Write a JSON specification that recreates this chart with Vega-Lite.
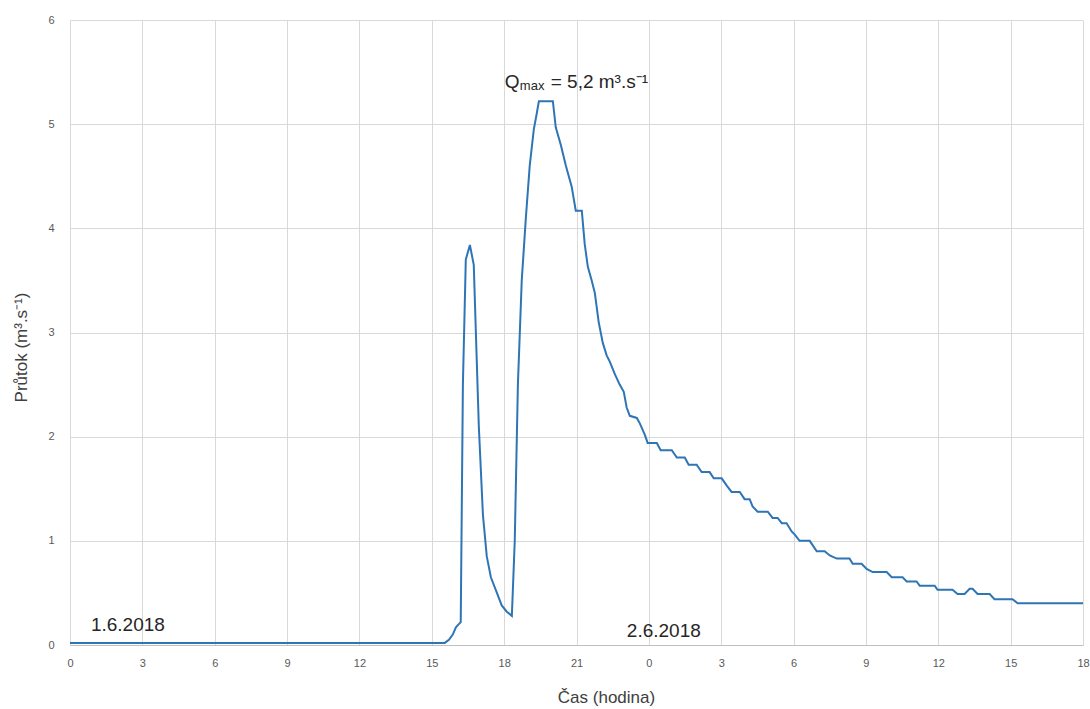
{
  "$schema": "https://vega.github.io/schema/vega-lite/v6.json",
  "width": 1013,
  "height": 625,
  "autosize": "none",
  "padding": {"left": 70, "top": 20, "right": 7, "bottom": 64},
  "background": "white",
  "config": {"view": {"stroke": null}, "font": "Liberation Sans"},
  "datasets": {
    "flow": [
      {"h": 0, "q": 0.02}, {"h": 15.54, "q": 0.02}, {"h": 15.71, "q": 0.05}, {"h": 15.87, "q": 0.1},
      {"h": 16.0, "q": 0.17}, {"h": 16.12, "q": 0.2}, {"h": 16.2, "q": 0.22}, {"h": 16.29, "q": 2.5},
      {"h": 16.41, "q": 3.7}, {"h": 16.58, "q": 3.84}, {"h": 16.74, "q": 3.65}, {"h": 16.95, "q": 2.1},
      {"h": 17.12, "q": 1.25}, {"h": 17.28, "q": 0.85}, {"h": 17.45, "q": 0.65}, {"h": 17.7, "q": 0.5},
      {"h": 17.9, "q": 0.38}, {"h": 18.11, "q": 0.32}, {"h": 18.32, "q": 0.28}, {"h": 18.44, "q": 1.0},
      {"h": 18.57, "q": 2.5}, {"h": 18.73, "q": 3.5}, {"h": 18.9, "q": 4.1}, {"h": 19.06, "q": 4.6},
      {"h": 19.23, "q": 4.95}, {"h": 19.35, "q": 5.1}, {"h": 19.44, "q": 5.22}, {"h": 20.02, "q": 5.22},
      {"h": 20.14, "q": 4.97}, {"h": 20.35, "q": 4.8}, {"h": 20.56, "q": 4.6}, {"h": 20.68, "q": 4.5},
      {"h": 20.8, "q": 4.4}, {"h": 20.97, "q": 4.17}, {"h": 21.22, "q": 4.17}, {"h": 21.34, "q": 3.85},
      {"h": 21.47, "q": 3.63}, {"h": 21.63, "q": 3.5}, {"h": 21.76, "q": 3.38}, {"h": 21.92, "q": 3.1},
      {"h": 22.09, "q": 2.9}, {"h": 22.25, "q": 2.78}, {"h": 22.38, "q": 2.72}, {"h": 22.59, "q": 2.6},
      {"h": 22.79, "q": 2.5}, {"h": 22.96, "q": 2.43}, {"h": 23.08, "q": 2.28}, {"h": 23.21, "q": 2.2},
      {"h": 23.5, "q": 2.18}, {"h": 23.62, "q": 2.13}, {"h": 23.83, "q": 2.02}, {"h": 23.95, "q": 1.94},
      {"h": 24.33, "q": 1.94}, {"h": 24.49, "q": 1.87}, {"h": 24.95, "q": 1.87}, {"h": 25.16, "q": 1.8},
      {"h": 25.49, "q": 1.8}, {"h": 25.65, "q": 1.73}, {"h": 25.98, "q": 1.73}, {"h": 26.19, "q": 1.66},
      {"h": 26.52, "q": 1.66}, {"h": 26.69, "q": 1.6}, {"h": 27.02, "q": 1.6}, {"h": 27.23, "q": 1.53},
      {"h": 27.43, "q": 1.47}, {"h": 27.77, "q": 1.47}, {"h": 27.97, "q": 1.4}, {"h": 28.18, "q": 1.4},
      {"h": 28.3, "q": 1.33}, {"h": 28.51, "q": 1.28}, {"h": 28.93, "q": 1.28}, {"h": 29.13, "q": 1.22},
      {"h": 29.34, "q": 1.22}, {"h": 29.51, "q": 1.17}, {"h": 29.71, "q": 1.17}, {"h": 29.92, "q": 1.09},
      {"h": 30.05, "q": 1.06}, {"h": 30.25, "q": 1.0}, {"h": 30.67, "q": 1.0}, {"h": 30.96, "q": 0.9},
      {"h": 31.29, "q": 0.9}, {"h": 31.5, "q": 0.86}, {"h": 31.79, "q": 0.83}, {"h": 32.32, "q": 0.83},
      {"h": 32.45, "q": 0.78}, {"h": 32.82, "q": 0.78}, {"h": 33.03, "q": 0.73}, {"h": 33.28, "q": 0.7},
      {"h": 33.86, "q": 0.7}, {"h": 34.07, "q": 0.65}, {"h": 34.52, "q": 0.65}, {"h": 34.69, "q": 0.61},
      {"h": 35.1, "q": 0.61}, {"h": 35.23, "q": 0.57}, {"h": 35.85, "q": 0.57}, {"h": 35.97, "q": 0.53},
      {"h": 36.59, "q": 0.53}, {"h": 36.8, "q": 0.49}, {"h": 37.09, "q": 0.49}, {"h": 37.3, "q": 0.54},
      {"h": 37.42, "q": 0.54}, {"h": 37.63, "q": 0.49}, {"h": 38.13, "q": 0.49}, {"h": 38.33, "q": 0.44},
      {"h": 39.08, "q": 0.44}, {"h": 39.29, "q": 0.4}, {"h": 42, "q": 0.4}
    ],
    "dates": [
      {"h": 2.4, "q": 0.19, "t": "1.6.2018"},
      {"h": 24.62, "q": 0.13, "t": "2.6.2018"}
    ],
    "qbig": [
      {"h": 18.03, "q": 5.35, "t": "Q"},
      {"h": 19.93, "q": 5.35, "t": "= 5,2 m³.s⁻¹"}
    ],
    "qsub": [
      {"h": 18.65, "q": 5.33, "t": "max"}
    ]
  },
  "layer": [
    {
      "data": {"name": "flow"},
      "mark": {"type": "line", "color": "#2e75b6", "strokeWidth": 2, "clip": true},
      "encoding": {
        "x": {
          "field": "h", "type": "quantitative",
          "scale": {"domain": [0, 42], "nice": false, "zero": false},
          "axis": {
            "values": [0, 3, 6, 9, 12, 15, 18, 21, 24, 27, 30, 33, 36, 39, 42],
            "labelExpr": "datum.value >= 24 ? datum.value - 24 : datum.value",
            "labelFlush": false, "labelOverlap": false,
            "title": "Čas (hodina)",
            "titleFont": "Liberation Sans", "titleFontSize": 17, "titleFontWeight": "normal", "titleColor": "#404040",
            "titleX": 536, "titleY": 52, "titleBaseline": "middle", "titleAlign": "center",
            "labelFont": "Liberation Sans", "labelFontSize": 11, "labelColor": "#595959", "labelPadding": 12,
            "ticks": false, "domain": true, "domainColor": "#bfbfbf", "domainWidth": 1,
            "grid": true, "gridColor": "#d9d9d9", "gridWidth": 1
          }
        },
        "y": {
          "field": "q", "type": "quantitative",
          "scale": {"domain": [0, 6], "nice": false},
          "axis": {
            "values": [0, 1, 2, 3, 4, 5, 6],
            "format": "d",
            "labelFlush": false,
            "title": "Průtok (m³.s⁻¹)",
            "titleFont": "Liberation Sans", "titleFontSize": 17, "titleFontWeight": "normal", "titleColor": "#404040",
            "titleX": -49, "titleY": 327, "titleBaseline": "middle", "titleAlign": "center", "titleAngle": -90,
            "labelFont": "Liberation Sans", "labelFontSize": 11, "labelColor": "#595959", "labelPadding": 16,
            "ticks": false, "domain": false,
            "grid": true, "gridColor": "#d9d9d9", "gridWidth": 1
          }
        }
      }
    },
    {
      "data": {"name": "dates"},
      "mark": {"type": "text", "fontSize": 19, "color": "#262626", "align": "center", "baseline": "middle", "font": "Liberation Sans"},
      "encoding": {
        "x": {"field": "h", "type": "quantitative"},
        "y": {"field": "q", "type": "quantitative"},
        "text": {"field": "t"}
      }
    },
    {
      "data": {"name": "qbig"},
      "mark": {"type": "text", "fontSize": 19, "color": "#262626", "align": "left", "baseline": "alphabetic", "font": "Liberation Sans"},
      "encoding": {
        "x": {"field": "h", "type": "quantitative"},
        "y": {"field": "q", "type": "quantitative"},
        "text": {"field": "t"}
      }
    },
    {
      "data": {"name": "qsub"},
      "mark": {"type": "text", "fontSize": 13, "color": "#262626", "align": "left", "baseline": "alphabetic", "font": "Liberation Sans"},
      "encoding": {
        "x": {"field": "h", "type": "quantitative"},
        "y": {"field": "q", "type": "quantitative"},
        "text": {"field": "t"}
      }
    }
  ]
}
